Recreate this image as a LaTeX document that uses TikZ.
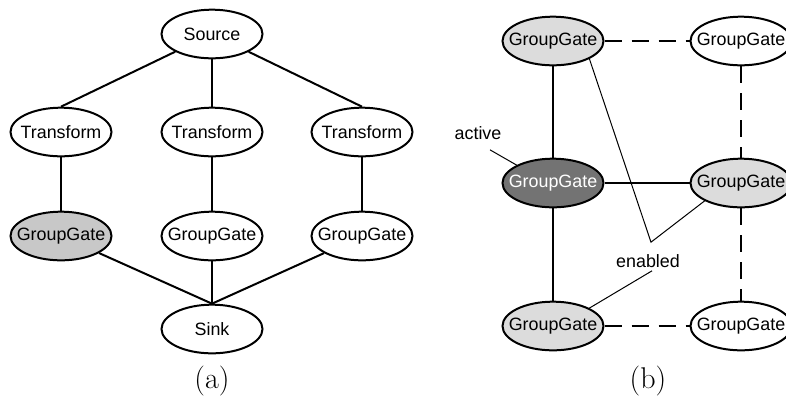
\documentclass[tikz,border=0pt]{standalone}
\usepackage{fontspec}
\newfontfamily\arial{Liberation Sans}
\usetikzlibrary{shapes.geometric}

\definecolor{gateGray}{RGB}{200,200,200}
\definecolor{gateLight}{RGB}{220,220,220}
\definecolor{gateDark}{RGB}{115,115,115}

% text of a node, kept out of the ellipse size
\newcommand{\ntext}[1]{\makebox[0pt]{#1}}

\begin{document}
\begin{tikzpicture}[x=0.75pt,y=0.75pt,yscale=-1,
  ell/.style={ellipse,draw,line width=1.5pt,inner sep=0pt,minimum width=75.75pt,minimum height=36.5pt,font=\arial\fontsize{13.4}{15}\selectfont},
  lbl/.style={inner sep=0.75pt,font=\arial\fontsize{13.4}{15}\selectfont},
  edge/.style={line width=1.5pt},
  dashedge/.style={line width=1.5pt,dash pattern={on 12.75pt off 7.5pt}},
  pointer/.style={line width=0.75pt},
  caption/.style={inner sep=0pt,font=\fontsize{22.5}{26}\selectfont}]
\path[use as bounding box,clip] (0,0) rectangle (786,405);

%% (a)
% Shapes: Ellipse
\node[ell] (src) at (212,34) {\ntext{Source}};
\node[ell] (tfA) at (61,132) {\ntext{Transform}};
\node[ell] (tfB) at (212,132) {\ntext{Transform}};
\node[ell] (tfC) at (362,132) {\ntext{Transform}};
\node[ell,fill=gateGray] (ggA) at (61,236) {\ntext{GroupGate}};
\node[ell] (ggB) at (212,236) {\ntext{GroupGate}};
\node[ell] (ggC) at (362,236) {\ntext{GroupGate}};
\node[ell] (snk) at (212,329) {\ntext{Sink}};
% Straight Lines
\draw[edge] (src) -- (tfA.north);
\draw[edge] (src) -- (tfB.north);
\draw[edge] (src) -- (tfC.north);
\foreach \t/\g in {tfA/ggA,tfB/ggB,tfC/ggC}
  \draw[edge] (\t) -- (\g);
\foreach \g in {ggA,ggB,ggC}
  \draw[edge] (\g) -- (snk.north);
% Text Node
\node[caption] (capA) at (212,381) {(a)};

%% (b)
% Shapes: Ellipse
\node[ell,fill=gateLight] (gtNW) at (553,41) {\ntext{GroupGate}};
\node[ell] (gtNE) at (741,41) {\ntext{GroupGate}};
\node[ell,fill=gateDark,text=white] (gtW) at (553,183) {\ntext{GroupGate}};
\node[ell,fill=gateLight] (gtE) at (741,183) {\ntext{GroupGate}};
\node[ell,fill=gateLight] (gtSW) at (553,326) {\ntext{GroupGate}};
\node[ell] (gtSE) at (741,326) {\ntext{GroupGate}};
% Straight Lines
\draw[edge] (gtNW) -- (gtW);
\draw[edge] (gtW) -- (gtSW);
\draw[edge] (gtW) -- (gtE);
\draw[dashedge] (gtNW) -- (gtNE);
\draw[dashedge] (gtNE) -- (gtE);
\draw[dashedge] (gtE) -- (gtSE);
\draw[dashedge] (gtSW) -- (gtSE);
% Text Node
\node[lbl] (act) at (478,133) {active};
\node[lbl] (enb) at (648,261) {enabled};
\coordinate (apex) at ([shift={(3,-11)}]enb.north);
% Straight Lines
\draw[pointer] ([shift={(12,9)}]act.south) -- (gtW.north west);
\draw[pointer] (gtNW.south east) -- (apex) -- (gtE.south west);
\draw[pointer] ([shift={(4,2)}]enb.south) -- (gtSW.north east);
% Text Node
\node[caption] (capB) at (648,381) {(b)};

\end{tikzpicture}
\end{document}
